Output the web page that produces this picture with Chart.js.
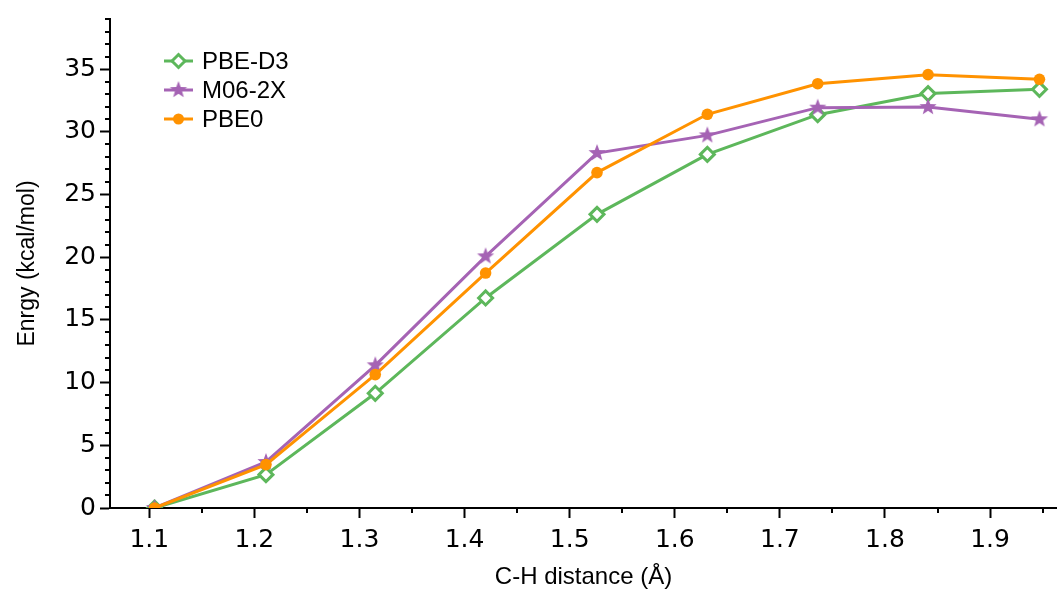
<!DOCTYPE html>
<html>
<head>
<meta charset="utf-8">
<script src="https://cdn.jsdelivr.net/npm/chart.js@4.4.1/dist/chart.umd.min.js"></script>
<style>
    html, body { margin: 0; padding: 0; background: #fff; }
    #wrap { width: 1057px; height: 590px; }
</style>
</head>
<body>
<div id="wrap"><canvas id="energyChart" width="1057" height="590"></canvas></div>
<script>
// C-H distance (Å)
const distances = [1.105, 1.211, 1.315, 1.420, 1.526, 1.631, 1.736, 1.841, 1.947];

// energies (kcal/mol)
const pbeD3 = [0, 2.66, 9.15, 16.75, 23.42, 28.2, 31.37, 33.05, 33.39];
const m062x = [0, 3.67, 11.38, 20.07, 28.31, 29.72, 31.93, 31.98, 31.0];
const pbe0 = [0, 3.46, 10.64, 18.74, 26.75, 31.4, 33.84, 34.56, 34.19];

const seriesNames = ["PBE-D3", "M06-2X", "PBE0"];
const xTicks = [1.1, 1.2, 1.3, 1.4, 1.5, 1.6, 1.7, 1.8, 1.9];
const yTicks = [0, 5, 10, 15, 20, 25, 30, 35];

const GREEN = "#5db75b";
const PURPLE = "#a563b4";
const ORANGE = "#ff9200";

const tickFont = { family: "'DejaVu Sans', sans-serif", size: 25 };
const textFont = { family: "'Liberation Sans', Arial, sans-serif", size: 24 };
const yTitleFont = { family: "'Liberation Sans', Arial, sans-serif", size: 23 };

// filled five point star used as point style
function makeStar(r, color) {
    const c = document.createElement("canvas");
    const s = Math.ceil(r * 2 + 2);
    c.width = s;
    c.height = s;
    const ctx = c.getContext("2d");
    ctx.fillStyle = color;
    ctx.beginPath();
    for (let i = 0; i < 10; i++) {
        const rad = i % 2 === 0 ? r : r * 0.42;
        const a = -Math.PI / 2 + i * Math.PI / 5;
        const px = s / 2 + rad * Math.cos(a);
        const py = s / 2 + rad * Math.sin(a);
        if (i === 0) ctx.moveTo(px, py); else ctx.lineTo(px, py);
    }
    ctx.closePath();
    ctx.fill();
    return c;
}

const starImg = makeStar(9, PURPLE);

function toPoints(vals) {
    return vals.map((v, i) => ({ x: distances[i], y: v }));
}

// minor ticks + legend drawn over the chart
const extrasPlugin = {
    id: "extras",
    afterDraw(chart) {
        const ctx = chart.ctx;
        const xs = chart.scales.x;
        const ys = chart.scales.y;
        const area = chart.chartArea;
        ctx.save();
        ctx.strokeStyle = "#000";
        ctx.lineWidth = 2;
        ctx.beginPath();
        for (let v = 1.15; v < xs.max; v += 0.1) {
            const px = Math.round(xs.getPixelForValue(v));
            ctx.moveTo(px, area.bottom);
            ctx.lineTo(px, area.bottom + 5);
        }
        for (let v = 1; v <= ys.max; v++) {
            if (v % 5 === 0) continue;
            const py = Math.round(ys.getPixelForValue(v));
            ctx.moveTo(area.left, py);
            ctx.lineTo(area.left - 5, py);
        }
        ctx.stroke();

        // legend
        const lx = 164, ly = 61, gap = 29;
        chart.data.datasets.forEach((ds, i) => {
            const y = ly + i * gap;
            ctx.strokeStyle = ds.borderColor;
            ctx.lineWidth = 3;
            ctx.beginPath();
            ctx.moveTo(lx, y);
            ctx.lineTo(lx + 29, y);
            ctx.stroke();
            const cx = lx + 14.5;
            if (ds.pointStyle === "rectRot") {
                ctx.fillStyle = "#fff";
                ctx.beginPath();
                ctx.moveTo(cx - 6.5, y); ctx.lineTo(cx, y - 6.5); ctx.lineTo(cx + 6.5, y); ctx.lineTo(cx, y + 6.5);
                ctx.closePath();
                ctx.fill();
                ctx.stroke();
            } else if (ds.pointStyle === "circle") {
                ctx.fillStyle = ds.pointBackgroundColor;
                ctx.beginPath();
                ctx.arc(cx, y, 5.5, 0, Math.PI * 2);
                ctx.fill();
            } else {
                ctx.drawImage(ds.pointStyle, cx - ds.pointStyle.width / 2, y - ds.pointStyle.height / 2);
            }
            ctx.fillStyle = "#000";
            ctx.font = textFont.size + "px " + textFont.family;
            ctx.textBaseline = "middle";
            ctx.textAlign = "left";
            ctx.fillText(ds.label, lx + 38, y + 1);
        });
        ctx.restore();
    }
};

new Chart(document.getElementById("energyChart"), {
    type: "line",
    data: {
        datasets: [
            {
                label: seriesNames[0],
                data: toPoints(pbeD3),
                borderColor: GREEN,
                backgroundColor: "#fff",
                pointBackgroundColor: "#fff",
                pointBorderColor: GREEN,
                pointStyle: "rectRot",
                pointRadius: 7,
                pointBorderWidth: 3,
                borderWidth: 3,
                order: 2
            },
            {
                label: seriesNames[1],
                data: toPoints(m062x),
                borderColor: PURPLE,
                backgroundColor: PURPLE,
                pointStyle: starImg,
                pointRadius: 9,
                borderWidth: 3,
                order: 1
            },
            {
                label: seriesNames[2],
                data: toPoints(pbe0),
                borderColor: ORANGE,
                backgroundColor: ORANGE,
                pointBackgroundColor: ORANGE,
                pointBorderColor: ORANGE,
                pointStyle: "circle",
                pointRadius: 5.8,
                pointBorderWidth: 0,
                borderWidth: 3,
                order: 0
            }
        ]
    },
    options: {
        responsive: false,
        animation: false,
        devicePixelRatio: 1,
        layout: { autoPadding: false, padding: { top: 19, right: 0, left: 0, bottom: 0 } },
        plugins: {
            legend: { display: false },
            tooltip: { enabled: false }
        },
        scales: {
            x: {
                type: "linear",
                min: 1.0626,
                max: 1.9637,
                afterBuildTicks: (scale) => { scale.ticks = xTicks.map(v => ({ value: v })); },
                afterFit: (scale) => {
                    scale.height = 82;
                    scale.paddingLeft = 0;
                    scale.paddingRight = 0;
                },
                border: { display: true, color: "#000", width: 2 },
                grid: { drawOnChartArea: false, drawTicks: true, tickLength: 10, tickColor: "#000", tickWidth: 2 },
                ticks: { color: "#000", font: tickFont, padding: 7, maxRotation: 0, callback: v => v.toFixed(1) },
                title: { display: true, text: "C-H distance (Å)", color: "#000", font: textFont, padding: { top: 0, bottom: -1.5 } }
            },
            y: {
                type: "linear",
                min: 0,
                max: 39,
                afterBuildTicks: (scale) => { scale.ticks = yTicks.map(v => ({ value: v })); },
                afterFit: (scale) => {
                    scale.width = 110;
                    scale.paddingTop = 0;
                    scale.paddingBottom = 0;
                },
                border: { display: true, color: "#000", width: 2 },
                grid: { drawOnChartArea: false, drawTicks: true, tickLength: 10, tickColor: "#000", tickWidth: 2 },
                ticks: { color: "#000", font: tickFont, padding: 4 },
                title: { display: true, text: "Enrgy (kcal/mol)", color: "#000", font: yTitleFont, padding: { top: 14, bottom: 0 } }
            }
        }
    },
    plugins: [extrasPlugin]
});
</script>
</body>
</html>
